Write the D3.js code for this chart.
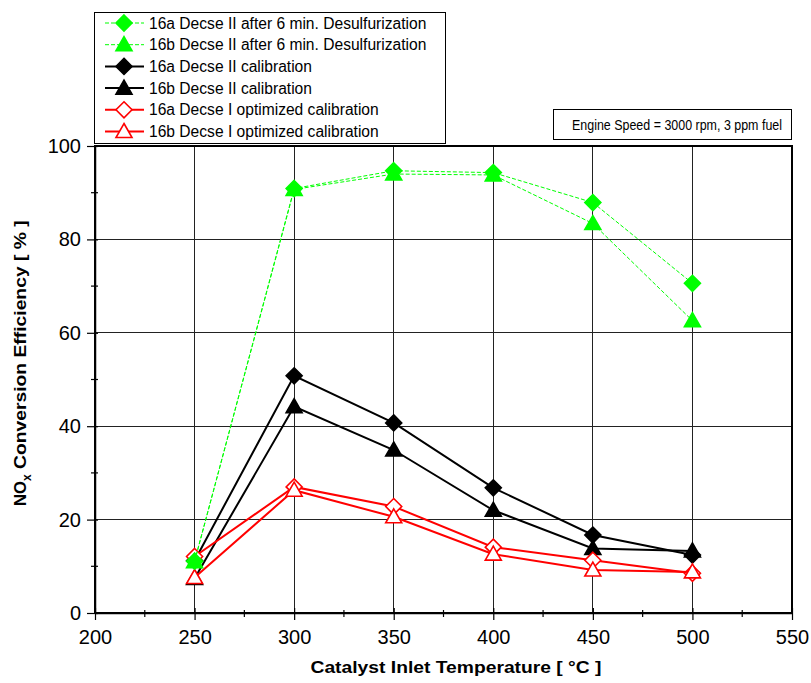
<!DOCTYPE html>
<html><head><meta charset="utf-8">
<script src="https://cdn.jsdelivr.net/npm/d3@7"></script>
<style>body{margin:0;background:#fff}svg{display:block}</style>
</head><body>
<script>
const temps = [250, 300, 350, 400, 450, 500];
const desulf16a = [11.1, 90.9, 94.7, 94.3, 87.9, 70.6];
const desulf16b = [11.0, 90.7, 94.0, 93.8, 83.4, 62.6];
const calib16a = [11.2, 50.8, 40.7, 26.8, 16.7, 12.4];
const calib16b = [7.4, 44.2, 34.9, 22.0, 13.8, 13.3];
const opt16a = [12.1, 27.0, 22.8, 14.1, 11.3, 8.5];
const opt16b = [7.6, 26.3, 20.6, 12.6, 9.2, 8.8];
const xTicks = [200, 250, 300, 350, 400, 450, 500, 550];
const yTicks = [0, 20, 40, 60, 80, 100];
const seriesNames = ["16a Decse II after 6 min. Desulfurization","16b Decse II after 6 min. Desulfurization","16a Decse II calibration","16b Decse II calibration","16a Decse I optimized calibration","16b Decse I optimized calibration"];
const annotation = "Engine Speed = 3000 rpm, 3 ppm fuel";

const series = [
  {name: seriesNames[0], vals: desulf16a, color: "#00ff00", sym: "diamond", fill: "#00ff00", width: 1, dash: "4,2"},
  {name: seriesNames[1], vals: desulf16b, color: "#00ff00", sym: "triangle", fill: "#00ff00", width: 1, dash: "4,2"},
  {name: seriesNames[2], vals: calib16a, color: "#000000", sym: "diamond", fill: "#000000", width: 2, dash: null},
  {name: seriesNames[3], vals: calib16b, color: "#000000", sym: "triangle", fill: "#000000", width: 2, dash: null},
  {name: seriesNames[4], vals: opt16a, color: "#ff0000", sym: "diamond", fill: "#ffffff", width: 2, dash: null},
  {name: seriesNames[5], vals: opt16b, color: "#ff0000", sym: "triangle", fill: "#ffffff", width: 2, dash: null}
];
const drawOrder = [2, 3, 4, 5, 0, 1];

const W = 811, H = 683;
const L = 95, R = 792, T = 146, B = 613;
const svg = d3.select("body").append("svg").attr("width", W).attr("height", H)
  .style("font-family", "Arial, 'Liberation Sans', sans-serif");

const x = d3.scaleLinear().domain([200, 550]).range([L, R]);
const y = d3.scaleLinear().domain([0, 100]).range([B, T]);

// gridlines
const g = svg.append("g");
g.selectAll(".gx").data(xTicks.slice(1, -1)).join("line")
  .attr("x1", d => x(d)).attr("x2", d => x(d)).attr("y1", T).attr("y2", B)
  .attr("stroke", "#222").attr("stroke-width", 1).attr("shape-rendering", "crispEdges");
g.selectAll(".gy").data(yTicks.slice(1, -1)).join("line")
  .attr("y1", d => y(d)).attr("y2", d => y(d)).attr("x1", L).attr("x2", R)
  .attr("stroke", "#222").attr("stroke-width", 1).attr("shape-rendering", "crispEdges");

// frame
svg.append("rect").attr("x", L).attr("y", T).attr("width", R - L).attr("height", B - T)
  .attr("fill", "none").attr("stroke", "#000").attr("stroke-width", 1.5).attr("shape-rendering", "crispEdges");

// axes
const xAxis = d3.axisBottom(x).tickValues(xTicks).tickSize(7).tickSizeOuter(0).tickPadding(10);
const xa = svg.append("g").attr("transform", `translate(0,${B})`).call(xAxis);
xa.select(".domain").attr("stroke-width", 1.5);
xa.selectAll("text").attr("font-size", 20).attr("fill", "#000");
xa.selectAll(".tick line").attr("y1", -5).attr("stroke-width", 1.2);
const xMinor = d3.range(225, 550, 50);
svg.append("g").selectAll("line").data(xMinor).join("line")
  .attr("x1", d => x(d)).attr("x2", d => x(d)).attr("y1", B - 3).attr("y2", B + 4)
  .attr("stroke", "#000").attr("stroke-width", 1.2);

const yAxis = d3.axisLeft(y).tickValues(yTicks).tickSize(8).tickSizeOuter(0).tickPadding(6);
const ya = svg.append("g").attr("transform", `translate(${L},0)`).call(yAxis);
ya.select(".domain").attr("stroke-width", 1.5);
ya.selectAll("text").attr("font-size", 20).attr("fill", "#000");
ya.selectAll(".tick line").attr("x1", 3).attr("stroke-width", 1.2);
const yMinor = d3.range(10, 100, 20);
svg.append("g").selectAll("line").data(yMinor).join("line")
  .attr("y1", d => y(d)).attr("y2", d => y(d)).attr("x1", L - 4).attr("x2", L + 3)
  .attr("stroke", "#000").attr("stroke-width", 1.2);

// axis titles
svg.append("text").attr("x", 456).attr("y", 673).attr("text-anchor", "middle")
  .attr("font-size", 17).attr("font-weight", "bold").attr("textLength", 291).attr("lengthAdjust", "spacingAndGlyphs")
  .text("Catalyst Inlet Temperature [ °C ]");
const yt = svg.append("g").attr("transform", `translate(26,362) rotate(-90)`);
const ytx = yt.append("text").attr("x", -144).attr("y", 0).attr("font-size", 17).attr("font-weight", "bold");
ytx.append("tspan").attr("textLength", 25).attr("lengthAdjust", "spacingAndGlyphs").text("NO");
ytx.append("tspan").attr("font-size", 12).attr("dy", 5).text("x");
ytx.append("tspan").attr("dy", -5).attr("textLength", 254).attr("lengthAdjust", "spacingAndGlyphs").text(" Conversion Efficiency [ % ]");

// symbols
function marker(sel, sym, cx, cy, color, fill) {
  if (sym === "diamond") {
    sel.append("path").attr("d", `M${cx},${cy - 8}L${cx + 8},${cy}L${cx},${cy + 8}L${cx - 8},${cy}Z`)
      .attr("fill", fill).attr("stroke", color).attr("stroke-width", 1.6);
  } else {
    sel.append("path").attr("d", `M${cx},${cy - 8}L${cx + 8},${cy + 6}L${cx - 8},${cy + 6}Z`)
      .attr("fill", fill).attr("stroke", color).attr("stroke-width", 1.6);
  }
}

const line = d3.line().x((d, i) => x(temps[i])).y(d => y(d));
const plot = svg.append("g");
drawOrder.forEach(k => {
  const s = series[k];
  const sg = plot.append("g");
  sg.append("path").attr("d", line(s.vals)).attr("fill", "none").attr("stroke", s.color)
    .attr("stroke-width", s.width).attr("stroke-dasharray", s.dash);
  s.vals.forEach((v, i) => marker(sg, s.sym, x(temps[i]), y(v), s.color, s.fill));
});

// legend
const lg = svg.append("g");
lg.append("rect").attr("x", 94.5).attr("y", 12.5).attr("width", 351).attr("height", 131)
  .attr("fill", "#fff").attr("stroke", "#000").attr("stroke-width", 1);
series.forEach((s, i) => {
  const cy = 23 + i * 21.7;
  lg.append("line").attr("x1", 105).attr("x2", 144).attr("y1", cy).attr("y2", cy)
    .attr("stroke", s.color).attr("stroke-width", s.width).attr("stroke-dasharray", s.dash);
  marker(lg, s.sym, 124, cy, s.color, s.fill);
  lg.append("text").attr("x", 149).attr("y", cy + 5.5).attr("font-size", 15.6).text(s.name);
});

// annotation box
svg.append("rect").attr("x", 553.5).attr("y", 109.5).attr("width", 238).attr("height", 30)
  .attr("fill", "#fff").attr("stroke", "#000").attr("stroke-width", 1);
svg.append("text").attr("x", 572).attr("y", 130).attr("font-size", 14)
  .attr("textLength", 210).attr("lengthAdjust", "spacingAndGlyphs").text(annotation);
</script>
</body></html>
